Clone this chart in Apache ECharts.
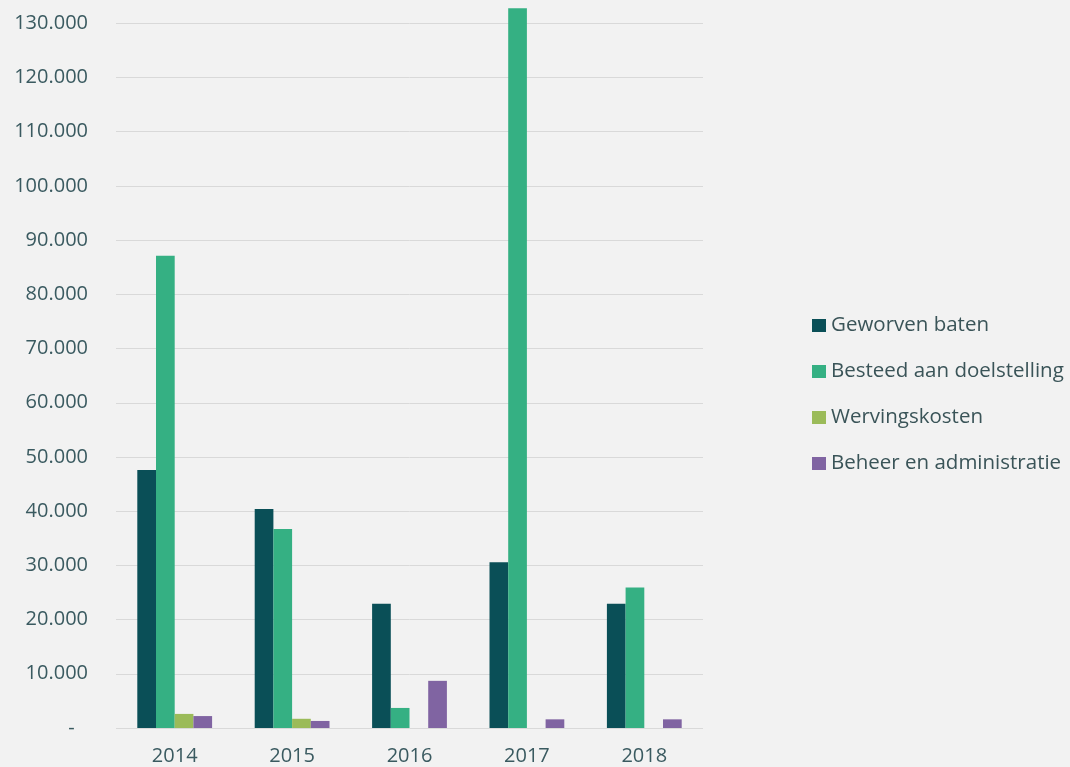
<!DOCTYPE html>
<html><head><meta charset="utf-8">
<script src="https://cdn.jsdelivr.net/npm/echarts@6/dist/echarts.min.js"></script>
<style>html,body{margin:0;padding:0;background:#f2f2f2}#c{width:1070px;height:767px}</style>
</head><body><div id="c"></div>
<script>
const categories = ['2014','2015','2016','2017','2018'];
const seriesNames = ['Geworven baten','Besteed aan doelstelling','Wervingskosten','Beheer en administratie'];
const geworven = [47600, 40400, 22900, 30600, 22900];
const besteed = [87100, 36700, 3700, 132800, 25900];
const werving = [2600, 1700, 0, 0, 0];
const beheer = [2200, 1300, 8700, 1600, 1600];
const colors = ['#0a4f57','#35b083','#9bbb59','#8064a2'];
const values = [geworven, besteed, werving, beheer];

const chart = echarts.init(document.getElementById('c'));
const fmt = v => v === 0 ? '-\u2002\u2009' : (v % 10000 === 0 ? v.toLocaleString('de-DE') : '');
chart.setOption({
  backgroundColor: '#f2f2f2',
  textStyle: {fontFamily: 'Open Sans'},
  grid: {left: 116, right: 367, top: 0, bottom: 39},
  legend: {
    orient: 'vertical', left: 807, top: 310,
    itemWidth: 14, itemHeight: 13, itemGap: 25,
    icon: 'rect',
    textStyle: {color: '#3a5458', fontSize: 20.5, fontFamily: 'Open Sans', lineHeight: 20},
    data: seriesNames
  },
  xAxis: {
    type: 'category', data: categories,
    axisLine: {show: false}, axisTick: {show: false},
    axisLabel: {color: '#3a5a60', fontSize: 20, margin: 18}
  },
  yAxis: {
    type: 'value', min: 0, max: 134300, interval: 10000,
    axisLine: {show: false}, axisTick: {show: false},
    axisLabel: {color: '#3a5a60', fontSize: 20, margin: 28, formatter: fmt, showMaxLabel: false},
    splitLine: {showMaxLine: false, lineStyle: {color: '#d9d9d9', width: 1}}
  },
  series: seriesNames.map((n, i) => ({
    name: n, type: 'bar', data: values[i], barWidth: 18.7, barGap: '0%',
    itemStyle: {color: colors[i]}
  }))
});
</script></body></html>
